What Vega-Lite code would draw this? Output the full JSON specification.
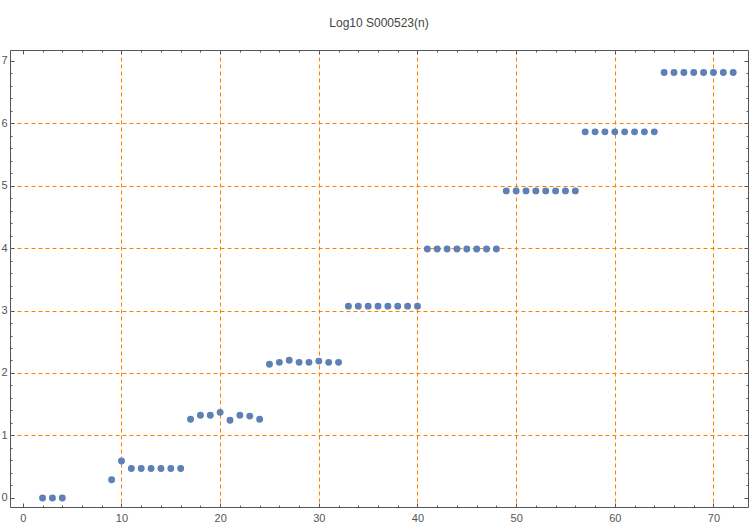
{
  "$schema": "https://vega.github.io/schema/vega-lite/v6.json",
  "autosize": "none",
  "width": 738,
  "height": 457,
  "padding": {"left": 10, "top": 50, "right": 2, "bottom": 18},
  "background": "white",
  "title": {"text": "Log10 S000523(n)", "fontSize": 12, "fontWeight": "normal", "font": "Liberation Sans", "color": "#444444", "offset": 20, "anchor": "middle"},
  "config": {
    "view": {"stroke": "#555555", "strokeWidth": 1},
    "axis": {"domain": false, "labelFont": "Liberation Sans", "labelFontSize": 11, "labelColor": "#555555", "tickColor": "#555555", "labelOverlap": false, "labelFlush": false, "gridColor": "#FF8000", "gridDash": [4, 3], "gridWidth": 1, "title": null}
  },
  "data": {"values": [
    {"n": 2, "v": 0}, {"n": 3, "v": 0}, {"n": 4, "v": 0},
    {"n": 9, "v": 0.29}, {"n": 10, "v": 0.59},
    {"n": 11, "v": 0.47}, {"n": 12, "v": 0.47}, {"n": 13, "v": 0.47}, {"n": 14, "v": 0.47}, {"n": 15, "v": 0.47}, {"n": 16, "v": 0.47},
    {"n": 17, "v": 1.26}, {"n": 18, "v": 1.325}, {"n": 19, "v": 1.325}, {"n": 20, "v": 1.37}, {"n": 21, "v": 1.245}, {"n": 22, "v": 1.325}, {"n": 23, "v": 1.31}, {"n": 24, "v": 1.26},
    {"n": 25, "v": 2.14}, {"n": 26, "v": 2.17}, {"n": 27, "v": 2.205}, {"n": 28, "v": 2.17}, {"n": 29, "v": 2.17}, {"n": 30, "v": 2.19}, {"n": 31, "v": 2.17}, {"n": 32, "v": 2.17},
    {"n": 33, "v": 3.07}, {"n": 34, "v": 3.07}, {"n": 35, "v": 3.07}, {"n": 36, "v": 3.07}, {"n": 37, "v": 3.07}, {"n": 38, "v": 3.07}, {"n": 39, "v": 3.07}, {"n": 40, "v": 3.07},
    {"n": 41, "v": 3.985}, {"n": 42, "v": 3.985}, {"n": 43, "v": 3.985}, {"n": 44, "v": 3.985}, {"n": 45, "v": 3.985}, {"n": 46, "v": 3.985}, {"n": 47, "v": 3.985}, {"n": 48, "v": 3.985},
    {"n": 49, "v": 4.915}, {"n": 50, "v": 4.915}, {"n": 51, "v": 4.915}, {"n": 52, "v": 4.915}, {"n": 53, "v": 4.915}, {"n": 54, "v": 4.915}, {"n": 55, "v": 4.915}, {"n": 56, "v": 4.915},
    {"n": 57, "v": 5.86}, {"n": 58, "v": 5.86}, {"n": 59, "v": 5.86}, {"n": 60, "v": 5.86}, {"n": 61, "v": 5.86}, {"n": 62, "v": 5.86}, {"n": 63, "v": 5.86}, {"n": 64, "v": 5.86},
    {"n": 65, "v": 6.81}, {"n": 66, "v": 6.81}, {"n": 67, "v": 6.81}, {"n": 68, "v": 6.81}, {"n": 69, "v": 6.81}, {"n": 70, "v": 6.81}, {"n": 71, "v": 6.81}, {"n": 72, "v": 6.81}
  ]},
  "resolve": {"axis": {"x": "independent", "y": "independent"}},
  "layer": [
    {
      "mark": {"type": "circle", "size": 48, "opacity": 1, "color": "#5E81B5"},
      "encoding": {
        "x": {"field": "n", "type": "quantitative",
          "scale": {"domain": [-1.3, 73.5], "nice": false, "zero": false},
          "axis": {"orient": "bottom",
            "values": [0,2,4,6,8,10,12,14,16,18,20,22,24,26,28,30,32,34,36,38,40,42,44,46,48,50,52,54,56,58,60,62,64,66,68,70,72],
            "labelExpr": "datum.value % 10 == 0 ? toString(datum.value) : ''",
            "tickSize": {"condition": {"test": "datum.value % 10 == 0", "value": -4}, "value": -2},
            "labelPadding": 9,
            "grid": true,
            "gridOpacity": {"condition": {"test": "datum.value % 10 != 0 || datum.value == 0", "value": 0}, "value": 1}
          }},
        "y": {"field": "v", "type": "quantitative",
          "scale": {"domain": [-0.145, 7.17], "nice": false, "zero": false},
          "axis": {"orient": "left",
            "values": [0,0.2,0.4,0.6,0.8,1,1.2,1.4,1.6,1.8,2,2.2,2.4,2.6,2.8,3,3.2,3.4,3.6,3.8,4,4.2,4.4,4.6,4.8,5,5.2,5.4,5.6,5.8,6,6.2,6.4,6.6,6.8,7],
            "labelExpr": "abs(datum.value - round(datum.value)) < 0.01 ? toString(round(datum.value)) : ''",
            "tickSize": {"condition": {"test": "abs(datum.value - round(datum.value)) < 0.01", "value": -4}, "value": -2},
            "labelPadding": 7,
            "grid": true,
            "gridOpacity": {"condition": {"test": "abs(datum.value - round(datum.value)) > 0.01 || datum.value < 0.5 || datum.value > 6.5", "value": 0}, "value": 1}
          }}
      }
    },
    {
      "mark": {"type": "circle", "size": 48, "opacity": 0},
      "encoding": {
        "x": {"field": "n", "type": "quantitative",
          "scale": {"domain": [-1.3, 73.5], "nice": false, "zero": false},
          "axis": {"orient": "top", "labels": false, "grid": false,
            "values": [0,2,4,6,8,10,12,14,16,18,20,22,24,26,28,30,32,34,36,38,40,42,44,46,48,50,52,54,56,58,60,62,64,66,68,70,72],
            "tickSize": {"condition": {"test": "datum.value % 10 == 0", "value": -4}, "value": -2}
          }},
        "y": {"field": "v", "type": "quantitative",
          "scale": {"domain": [-0.145, 7.17], "nice": false, "zero": false},
          "axis": {"orient": "right", "labels": false, "grid": false,
            "values": [0,0.2,0.4,0.6,0.8,1,1.2,1.4,1.6,1.8,2,2.2,2.4,2.6,2.8,3,3.2,3.4,3.6,3.8,4,4.2,4.4,4.6,4.8,5,5.2,5.4,5.6,5.8,6,6.2,6.4,6.6,6.8,7],
            "tickSize": {"condition": {"test": "abs(datum.value - round(datum.value)) < 0.01", "value": -4}, "value": -2}
          }}
      }
    }
  ]
}
